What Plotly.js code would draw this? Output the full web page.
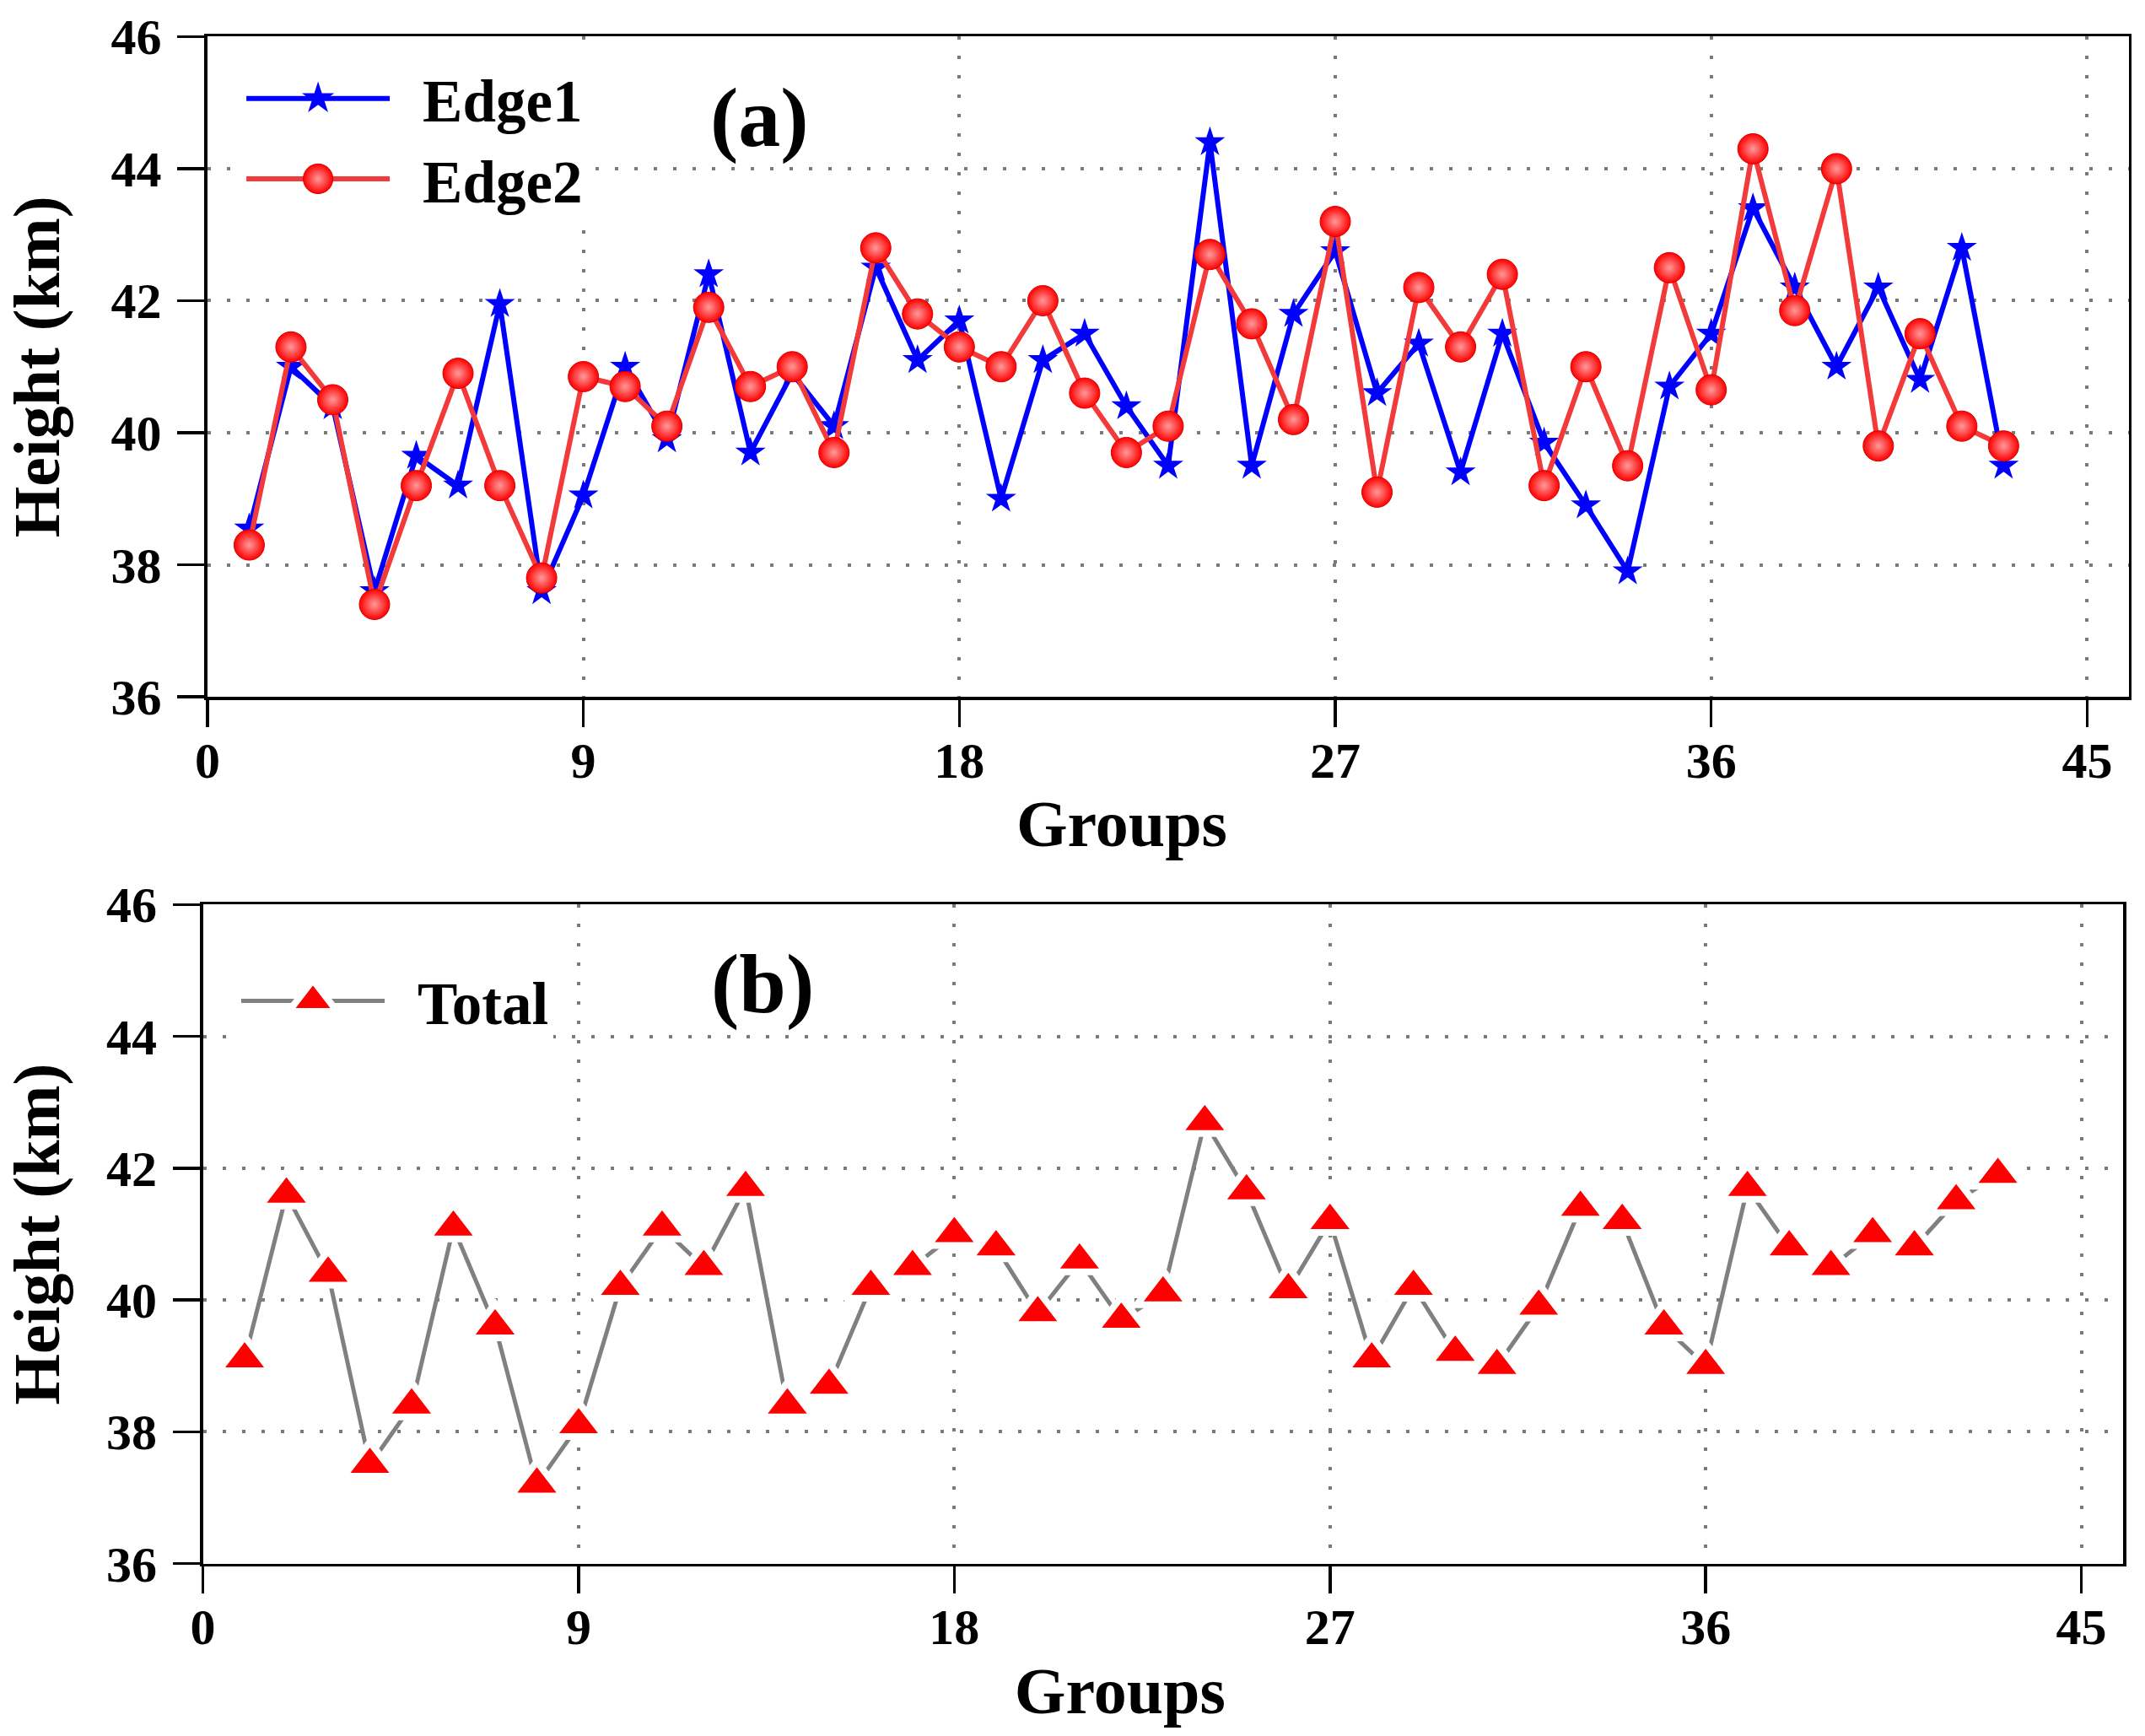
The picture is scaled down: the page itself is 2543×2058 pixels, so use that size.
<!DOCTYPE html>
<html>
<head>
<meta charset="utf-8">
<script src="https://cdn.plot.ly/plotly-3.0.1.min.js"></script>
<style>
body{margin:0;padding:0;background:#fff;}
#chart{width:2543px;height:2058px;}
</style>
</head>
<body>
<div id="chart"></div>
<script>
// data
var groups = [1,2,3,4,5,6,7,8,9,10,11,12,13,14,15,16,17,18,19,20,21,22,23,24,25,26,27,28,29,30,31,32,33,34,35,36,37,38,39,40,41,42,43];
var edge1 = [38.55,41.0,40.4,37.6,39.65,39.2,41.95,37.6,39.05,41.0,39.9,42.4,39.7,40.9,40.1,42.5,41.1,41.7,39.0,41.1,41.5,
	40.4,39.5,44.4,39.5,41.8,42.75,40.6,41.35,39.4,41.5,39.85,38.9,37.9,40.7,41.5,43.4,42.2,41.0,42.2,40.8,42.8,39.5];
var edge2 = [38.3,41.3,40.5,37.4,39.2,40.9,39.2,37.8,40.85,40.7,40.1,41.9,40.7,41.0,39.7,42.8,41.8,41.3,41.0,42.0,40.6,
	39.7,40.1,42.7,41.65,40.2,43.2,39.1,42.2,41.3,42.4,39.2,41.0,39.5,42.5,40.65,44.3,41.85,44.0,39.8,41.5,40.1,39.8];
var total = [39.1,41.6,40.4,37.5,38.4,41.1,39.6,37.2,38.1,40.2,41.1,40.5,41.7,38.4,38.7,40.2,40.5,41.0,40.8,39.8,40.6,
	39.7,40.1,42.7,41.65,40.15,41.2,39.1,40.2,39.2,39.0,39.9,41.4,41.2,39.6,39.0,41.7,40.8,40.5,41.0,40.8,41.5,41.9];
var xTicks = [0,9,18,27,36,45];
var yTicks = [36,38,40,42,44,46];

var FONT = 'Liberation Serif, Times New Roman, serif';

function makeX(domain, anchor){
	return {
		domain: domain, anchor: anchor,
		range: [0,46], tickvals: xTicks,
		ticks: 'outside', ticklen: 32, tickwidth: 3.5, tickcolor: '#000',
		ticklabelstandoff: -12,
		showline: true, linewidth: 3.5, linecolor: '#000', mirror: true,
		showgrid: true, gridcolor: '#7a7a7a', gridwidth: 4, griddash: '4px,19px',
		zeroline: false,
		tickfont: {family: FONT, size: 60, color: '#000', weight: 'bold'},
		title: {text: 'Groups', standoff: 16, font: {family: FONT, size: 78, color: '#000', weight: 'bold'}}
	};
}
function makeY(domain, anchor){
	return {
		domain: domain, anchor: anchor,
		range: [36,46], tickvals: yTicks,
		ticks: 'outside', ticklen: 32, tickwidth: 3.5, tickcolor: '#000',
		ticklabelstandoff: 7,
		showline: true, linewidth: 3.5, linecolor: '#000', mirror: true,
		showgrid: true, gridcolor: '#7a7a7a', gridwidth: 4, griddash: '4px,19px',
		zeroline: false,
		tickfont: {family: FONT, size: 60, color: '#000', weight: 'bold'},
		title: {text: 'Height (km)', standoff: 38, font: {family: FONT, size: 78, color: '#000', weight: 'bold'}}
	};
}

var traceEdge1 = {
	x: groups, y: edge1, name: 'Edge1', type: 'scatter', mode: 'lines+markers',
	xaxis: 'x', yaxis: 'y', legend: 'legend',
	line: {color: '#0000ff', width: 6},
	marker: {symbol: 'star', size: 27, color: '#0000ff', line: {width: 0}}
};
var traceEdge2 = {
	x: groups, y: edge2, name: 'Edge2', type: 'scatter', mode: 'lines+markers',
	xaxis: 'x', yaxis: 'y', legend: 'legend',
	line: {color: '#f23a3a', width: 6},
	marker: {symbol: 'circle', size: 36, color: '#ff0000',
		gradient: {type: 'radial', color: '#ff9a9a'},
		line: {color: '#d80000', width: 1}}
};
var traceTotal = {
	x: groups, y: total, name: 'Total', type: 'scatter', mode: 'lines+markers',
	xaxis: 'x2', yaxis: 'y2', legend: 'legend2',
	line: {color: '#808080', width: 5},
	marker: {symbol: 'triangle-up', size: 54, color: '#ff0000', line: {color: '#ffffff', width: 8}}
};

var legendFont = {family: FONT, size: 71, color: '#000', weight: 'bold'};

var layout = {
	width: 2543, height: 2058,
	margin: {l: 0, r: 0, t: 0, b: 0},
	paper_bgcolor: '#fff', plot_bgcolor: '#fff',
	showlegend: true,
	xaxis: makeX([0.0967, 0.9925], 'y'),
	yaxis: makeY([0.5986, 0.9789], 'x'),
	xaxis2: makeX([0.0946, 0.9898], 'y2'),
	yaxis2: makeY([0.0993, 0.4789], 'x2'),
	legend: {x: 0.1129, y: 0.9689, xanchor: 'left', yanchor: 'top', bgcolor: '#fff',
		borderwidth: 0, font: legendFont, itemwidth: 170, tracegroupgap: 0},
	legend2: {x: 0.1105, y: 0.4490, xanchor: 'left', yanchor: 'top', bgcolor: '#fff',
		borderwidth: 0, font: legendFont, itemwidth: 170},
	annotations: [
		{text: '(a)', xref: 'paper', yref: 'paper', x: 900/2543, y: 1-140/2058,
			xanchor: 'center', yanchor: 'middle', showarrow: false,
			font: {family: FONT, size: 100, color: '#000', weight: 'bold'}},
		{text: '(b)', xref: 'paper', yref: 'paper', x: 904/2543, y: 1-1166/2058,
			xanchor: 'center', yanchor: 'middle', showarrow: false,
			font: {family: FONT, size: 100, color: '#000', weight: 'bold'}}
	]
};

// legend symbols are capped in size by plotly, blow them up afterwards
var legendTweak = {Edge1: {k: 1.8, sw: 0}, Edge2: {k: 2.2, sw: 1}, Total: {k: 3.1, sw: 8}};
var textShift = 34;

// shift an attribute once, again only if plotly has reset it
function shiftAttr(el, attr, delta){
	var cur = parseFloat(el.getAttribute(attr) || 0);
	var mark = el.getAttribute('data-set-' + attr);
	if(mark !== null && parseFloat(mark) === cur) return;
	var nv = cur + delta;
	el.setAttribute(attr, nv);
	el.setAttribute('data-set-' + attr, nv);
}

function tweakLegends(){
	document.querySelectorAll('g.traces').forEach(function(tr){
		// text class is legendtext / legend2text depending on the legend
		var t = tr.querySelector('text.legendtext, text.legend2text');
		if(!t) return;
		var s = legendTweak[t.textContent.trim()];
		if(!s) return;
		shiftAttr(t, 'x', textShift);
		tr.querySelectorAll('path.scatterpts').forEach(function(p){
			var tf = p.getAttribute('transform') || '';
			if(tf.indexOf('scale') < 0){
				p.setAttribute('transform', tf + ' scale(' + s.k + ')');
				p.style.strokeWidth = (s.sw / s.k) + 'px';
			}
		});
	});
	document.querySelectorAll('g[class^="legend"] rect.bg, clipPath[id^="legend"] rect').forEach(function(r){
		shiftAttr(r, 'width', textShift);
	});
	// axis titles sit a little left of the axis centre in the original
	[['.g-xtitle text', -55], ['.g-x2title text', -51]].forEach(function(a){
		var el = document.querySelector(a[0]);
		if(el) shiftAttr(el, 'x', a[1]);
	});
}

var gd = document.getElementById('chart');
var obs = new MutationObserver(function(){ tweakLegends(); });
obs.observe(gd, {childList: true, subtree: true});

Plotly.newPlot(gd, [traceEdge1, traceEdge2, traceTotal], layout, {displayModeBar: false, staticPlot: true}).then(function(){
	tweakLegends();
	gd.on('plotly_afterplot', tweakLegends);
});
</script>
</body>
</html>
